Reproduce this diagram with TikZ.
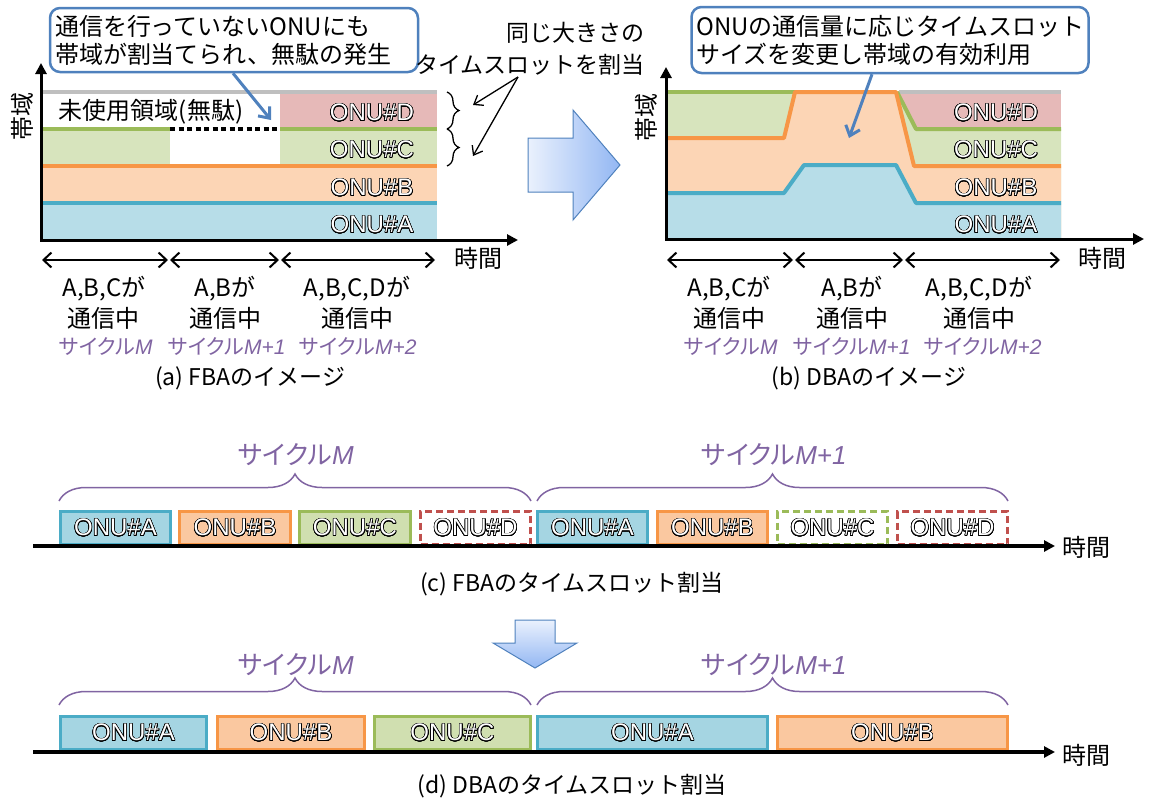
\documentclass[tikz,border=0pt]{standalone}
\usepackage{fontspec}
\setmainfont{Noto Sans CJK JP}
\newfontfamily\jpprop{Noto Sans CJK JP}[RawFeature=+palt]
\newfontfamily\arialfont{Liberation Sans}
\usepackage{contour}
\contourlength{0.6pt}
\contournumber{24}
\usetikzlibrary{arrows.meta,decorations.pathreplacing,calc}
\definecolor{lnA}{HTML}{4BACC6}
\definecolor{lnB}{HTML}{F79646}
\definecolor{lnC}{HTML}{9BBB59}
\definecolor{lnD}{HTML}{C0504D}
\definecolor{fA}{HTML}{B7DDE8}
\definecolor{fB}{HTML}{FCD5B5}
\definecolor{fC}{HTML}{D7E4BD}
\definecolor{fD}{HTML}{E6B9B8}
\definecolor{bxA}{HTML}{A5D5E2}
\definecolor{bxB}{HTML}{FAC8A0}
\definecolor{bxC}{HTML}{D0DFB0}
\definecolor{gry}{HTML}{BFBFBF}
\definecolor{purp}{HTML}{8064A2}
\definecolor{callb}{HTML}{4F81BD}
\definecolor{arrL}{HTML}{EAF1FD}
\definecolor{arrR}{HTML}{93B7F3}
\newcommand\fsz[2]{\fontsize{#1}{#2}\selectfont}
\newcommand\onutxt[1]{\contour{black}{\textcolor{white}{#1}}}
\newcommand\cycM[1]{{\jpprop サイクル}{\arialfont\itshape #1}}
\begin{document}
\begin{tikzpicture}[x=1pt,y=-1pt,
 band/.style={line width=4pt},
 axes/.style={line width=3pt,{Triangle[length=11pt,width=11pt]}-{Triangle[length=11pt,width=11pt]}},
 onu/.style={font=\arialfont\fsz{24}{24}, inner sep=0pt},
 jtext/.style={font=\fsz{24}{31}, inner sep=0pt, align=center},
 cyc/.style={font=\fsz{21}{21}, text=purp, inner sep=0pt},
 cycbig/.style={font=\fsz{26}{26}, text=purp, inner sep=0pt},
 captext/.style={font=\fsz{23}{23}, inner sep=0pt},
 callout/.style={draw=callb, line width=2.5pt, rounded corners=10pt, fill=white, align=left, inner sep=4pt, font=\fsz{24}{28}},
 callarrow/.style={draw=callb, line width=3pt, -{Straight Barb[length=9pt,width=15pt]}},
 thinarrow/.style={line width=1.3pt, -{Straight Barb[length=8pt,width=12pt]}},
 dbl/.style={line width=2pt, {Straight Barb[length=8pt,width=15pt]}-{Straight Barb[length=8pt,width=15pt]}},
 slot/.style={line width=3pt, inner sep=0pt, minimum height=33pt, font=\arialfont\fsz{24}{24}},
 dslot/.style={slot, dash pattern=on 7pt off 4pt, fill=white},
 pbrace/.style={draw=purp, line width=1.5pt, decorate, decoration={brace, amplitude=27pt}},
 bbrace/.style={draw=black, line width=1.3pt, decorate, decoration={brace, amplitude=12pt}},
 timeline/.style={line width=3.5pt, -{Triangle[length=11pt,width=11pt]}},
 bigarrow/.style={draw=callb, line width=1pt},
]
\useasboundingbox (0,0) rectangle (1149,798);

% ================= (a) FBA =================
\fill[fA] (41,203) rectangle (437,240);
\fill[fB] (41,166) rectangle (437,203);
\fill[fC] (41,129) rectangle (170,166);
\fill[fC] (280,129) rectangle (437,166);
\fill[fD] (280,92) rectangle (437,129);
\draw[band,gry] (41,92) -- (437,92);
\draw[band,lnC] (41,129) -- (170,129);
\draw[band,lnC] (280,129) -- (437,129);
\draw[line width=4pt, dash pattern=on 5pt off 3.5pt] (170,129) -- (280,129);
\draw[band,lnB] (41,166) -- (437,166);
\draw[band,lnA] (41,203) -- (437,203);
\coordinate (aY) at (41,63);
\coordinate (aO) at (41,240);
\coordinate (aX) at (518,240);
\draw[axes] (aY) -- (aO) -- (aX);
\node[onu] (aD) at (372,113) {\onutxt{ONU\#D}};
\node[onu] (aC) at (372,150) {\onutxt{ONU\#C}};
\node[onu] (aB) at (372,188) {\onutxt{ONU\#B}};
\node[onu] (aA) at (372,225) {\onutxt{ONU\#A}};
\node[font=\fsz{24}{24}, rotate=90, inner sep=0pt] (bwA) at (22,116) {帯域};
\node[jtext] (unused) at (151,112) {未使用領域(無駄)};
\node[callout, minimum width=368pt, minimum height=64pt, text width=358pt] (calA) at (234,40)
  {通信を行っていないONUにも\\帯域が割当てられ、無駄の発生};
\coordinate (calAtip) at (271,120);
\draw[callarrow] ([xshift=-1pt]calA.south) -- (calAtip);
\draw[bbrace] (447,92) -- (447,129);
\draw[bbrace] (447,129) -- (447,166);
\node[font=\fsz{23}{32}, align=right, anchor=east, inner sep=0pt] (same) at (645,49)
  {同じ大きさの\\タイムスロットを割当};
\coordinate (sameS) at (518,77);
\coordinate (brT1) at (473,105);
\coordinate (brT2) at (473,156);
\draw[thinarrow] (sameS) -- (brT1);
\draw[thinarrow] (sameS) -- (brT2);
% period arrows
\coordinate (ap0) at (42,260);
\coordinate (ap1) at (168,260);
\coordinate (ap2) at (170,260);
\coordinate (ap3) at (279,260);
\coordinate (ap4) at (281,260);
\coordinate (ap5) at (435,260);
\draw[dbl] (ap0) -- (ap1);
\draw[dbl] (ap2) -- (ap3);
\draw[dbl] (ap4) -- (ap5);
\node[font=\fsz{24}{24}, inner sep=0pt] (timeA) at (478,258) {時間};
\node[jtext] (aL1) at (104,303) {A,B,Cが\\通信中};
\node[jtext] (aL2) at (225,303) {A,Bが\\通信中};
\node[jtext] (aL3) at (357,303) {A,B,C,Dが\\通信中};
\node[cyc] (aM0) at (106,347) {\cycM{M}};
\node[cyc] (aM1) at (227,347) {\cycM{M+1}};
\node[cyc] (aM2) at (358,347) {\cycM{M+2}};
\node[captext] (capA) at (250,378) {(a) FBAのイメージ};

% ================= big arrow =================
\draw[bigarrow, left color=arrL, right color=arrR]
  (528,138) -- (573,138) -- (573,110) -- (620,165) -- (573,220) -- (573,192) -- (528,192) -- cycle;

% ================= (b) DBA =================
\fill[fD] (896,92) rectangle (1061,239);
\fill[fC] (666,92) -- (899,92) -- (916,129) -- (1061,129) -- (1061,239) -- (666,239) -- cycle;
\fill[fB] (666,138) -- (784,138) -- (795,92) -- (896,92) -- (914,166) -- (1061,166) -- (1061,239) -- (666,239) -- cycle;
\fill[fA] (666,193) -- (784,193) -- (804,165) -- (896,165) -- (916,203) -- (1061,203) -- (1061,239) -- (666,239) -- cycle;
\draw[band,gry] (899,92) -- (1061,92);
\draw[band,lnC] (666,92) -- (795,92);
\draw[band,lnC,line join=round] (897,92) -- (916,129) -- (1061,129);
\draw[band,lnB,line join=round] (666,138) -- (784,138) -- (795,92) -- (896,92) -- (914,166) -- (1061,166);
\draw[band,lnA,line join=round] (666,193) -- (784,193) -- (804,165) -- (896,165) -- (916,203) -- (1061,203);
\coordinate (bY) at (666,67);
\coordinate (bO) at (666,239);
\coordinate (bX) at (1144,239);
\draw[axes] (bY) -- (bO) -- (bX);
\node[onu] (bD) at (996,113) {\onutxt{ONU\#D}};
\node[onu] (bC) at (996,150) {\onutxt{ONU\#C}};
\node[onu] (bB) at (996,188) {\onutxt{ONU\#B}};
\node[onu] (bA) at (996,225) {\onutxt{ONU\#A}};
\node[font=\fsz{24}{24}, rotate=90, inner sep=0pt] (bwB) at (646,117) {帯域};
\node[callout, minimum width=397pt, minimum height=66pt, text width=387pt] (calB) at (890,40)
  {ONUの通信量に応じタイムスロット\\サイズを変更し帯域の有効利用};
\coordinate (calBtip) at (849,138);
\draw[callarrow] ([xshift=-18pt]calB.south) -- (calBtip);
\coordinate (bp0) at (667,260);
\coordinate (bp1) at (793,260);
\coordinate (bp2) at (795,260);
\coordinate (bp3) at (903,260);
\coordinate (bp4) at (905,260);
\coordinate (bp5) at (1060,260);
\draw[dbl] (bp0) -- (bp1);
\draw[dbl] (bp2) -- (bp3);
\draw[dbl] (bp4) -- (bp5);
\node[font=\fsz{24}{24}, inner sep=0pt] (timeB) at (1102,258) {時間};
\node[jtext] (bL1) at (729,303) {A,B,Cが\\通信中};
\node[jtext] (bL2) at (852,303) {A,Bが\\通信中};
\node[jtext] (bL3) at (979,303) {A,B,C,Dが\\通信中};
\node[cyc] (bM0) at (731,347) {\cycM{M}};
\node[cyc] (bM1) at (852,347) {\cycM{M+1}};
\node[cyc] (bM2) at (983,347) {\cycM{M+2}};
\node[captext] (capB) at (869,378) {(b) DBAのイメージ};

% ================= (c) FBA slots =================
\node[cycbig] (cM0) at (296,455) {\cycM{M}};
\node[cycbig] (cM1) at (774,455) {\cycM{M+1}};
\coordinate (cb0) at (59,501);
\coordinate (cb1) at (531,501);
\coordinate (cb2) at (537,501);
\coordinate (cb3) at (1008,501);
\draw[pbrace] (cb0) -- (cb1);
\draw[pbrace] (cb2) -- (cb3);
\node[slot, draw=lnA, fill=bxA, minimum width=110pt] (c1a) at (115.5,528) {\onutxt{ONU\#A}};
\node[slot, draw=lnB, fill=bxB, minimum width=111pt] (c1b) at (235,528) {\onutxt{ONU\#B}};
\node[slot, draw=lnC, fill=bxC, minimum width=111pt] (c1c) at (355,528) {\onutxt{ONU\#C}};
\node[dslot, draw=lnD, minimum width=110pt] (c1d) at (475.5,528) {\onutxt{ONU\#D}};
\node[slot, draw=lnA, fill=bxA, minimum width=110pt] (c2a) at (592.5,528) {\onutxt{ONU\#A}};
\node[slot, draw=lnB, fill=bxB, minimum width=110pt] (c2b) at (712.5,528) {\onutxt{ONU\#B}};
\node[dslot, draw=lnC, minimum width=110pt] (c2c) at (832.5,528) {\onutxt{ONU\#C}};
\node[dslot, draw=lnD, minimum width=110pt] (c2d) at (952.5,528) {\onutxt{ONU\#D}};
\coordinate (ct0) at (33,546);
\coordinate (ct1) at (1055,546);
\draw[timeline] (ct0) -- (ct1);
\node[font=\fsz{24}{24}, inner sep=0pt] (timeC) at (1086,547) {時間};
\node[captext] (capC) at (572,584) {(c) FBAのタイムスロット割当};

% ================= down arrow =================
\draw[bigarrow, top color=arrL, bottom color=arrR]
  (515,620) -- (555,620) -- (555,643) -- (577,643) -- (535,668) -- (493,643) -- (515,643) -- cycle;

% ================= (d) DBA slots =================
\node[cycbig] (dM0) at (296,665) {\cycM{M}};
\node[cycbig] (dM1) at (774,665) {\cycM{M+1}};
\coordinate (db0) at (59,705);
\coordinate (db1) at (531,705);
\coordinate (db2) at (537,705);
\coordinate (db3) at (1008,705);
\draw[pbrace] (db0) -- (db1);
\draw[pbrace] (db2) -- (db3);
\node[slot, draw=lnA, fill=bxA, minimum width=146pt] (d1a) at (133.5,733) {\onutxt{ONU\#A}};
\node[slot, draw=lnB, fill=bxB, minimum width=147pt] (d1b) at (291,733) {\onutxt{ONU\#B}};
\node[slot, draw=lnC, fill=bxC, minimum width=156pt] (d1c) at (452.5,733) {\onutxt{ONU\#C}};
\node[slot, draw=lnA, fill=bxA, minimum width=230pt] (d2a) at (652.5,733) {\onutxt{ONU\#A}};
\node[slot, draw=lnB, fill=bxB, minimum width=230pt] (d2b) at (892.5,733) {\onutxt{ONU\#B}};
\coordinate (dt0) at (33,752);
\coordinate (dt1) at (1055,752);
\draw[timeline] (dt0) -- (dt1);
\node[font=\fsz{24}{24}, inner sep=0pt] (timeD) at (1086,755) {時間};
\node[captext] (capD) at (572,786) {(d) DBAのタイムスロット割当};
\end{tikzpicture}
\end{document}
